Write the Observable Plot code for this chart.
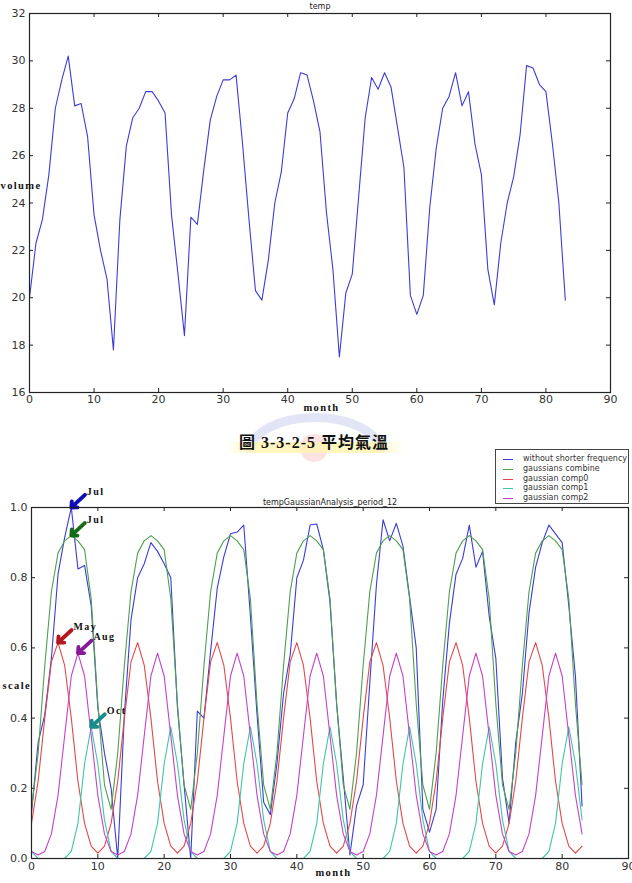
<!DOCTYPE html>
<html><head><meta charset="utf-8">
<script src="https://cdn.jsdelivr.net/npm/d3@7"></script>
<script src="https://cdn.jsdelivr.net/npm/@observablehq/plot@0.6"></script>
<style>
body{margin:0;background:#fff;}
#wrap{position:relative;width:632px;height:883px;overflow:hidden;background:#fff;font-family:"DejaVu Sans",sans-serif;}
#wrap svg{position:absolute;left:0;overflow:visible;}
.caption{position:absolute;left:-2px;top:429px;width:632px;text-align:center;font-family:"Liberation Serif","Noto Sans CJK TC",serif;font-weight:bold;font-size:16px;letter-spacing:1px;color:#111;}
.legend{position:absolute;left:495px;top:449px;width:134px;height:55px;border:1px solid #444;background:#fff;box-sizing:border-box;}
.legend .row{position:absolute;left:0;height:10px;width:134px;font-size:8px;line-height:10px;color:#333;white-space:nowrap;}
.legend .sw{position:absolute;left:7px;top:5px;width:10px;height:0;border-top:1px solid;}
.legend .tx{position:absolute;left:27px;top:0;}
g[font-family="Liberation Serif"] text{letter-spacing:1.4px;}
</style></head><body><div id="wrap"></div>
<script>
// ---------- data ----------
const months = d3.range(84);
const xTicks = [0, 10, 20, 30, 40, 50, 60, 70, 80, 90];
const tempTicks = [16, 18, 20, 22, 24, 26, 28, 30, 32];
const scaleTicks = [0, 0.2, 0.4, 0.6, 0.8, 1.0];

// top panel: monthly mean temperature
const temp = [20.0, 22.3, 23.3, 25.2, 28.0, 29.2, 30.2, 28.1, 28.2, 26.8,
  23.5, 22.0, 20.8, 17.8, 23.3, 26.4, 27.6, 28.0, 28.7, 28.7,
  28.3, 27.8, 23.5, 21.0, 18.4, 23.4, 23.1, 25.4, 27.5, 28.5,
  29.2, 29.2, 29.4, 26.5, 23.3, 20.3, 19.9, 21.6, 24.0, 25.3,
  27.8, 28.4, 29.5, 29.4, 28.3, 27.0, 23.6, 21.2, 17.5, 20.2,
  21.0, 24.3, 27.6, 29.3, 28.8, 29.5, 28.9, 27.2, 25.5, 20.1,
  19.3, 20.1, 23.8, 26.3, 28.0, 28.5, 29.5, 28.1, 28.7, 26.5,
  25.2, 21.2, 19.7, 22.3, 24.0, 25.1, 26.9, 29.8, 29.7, 29.0,
  28.7, 26.5, 24.0, 19.9];

// bottom panel series
const withoutShorter = [0.13, 0.33, 0.41, 0.57, 0.81, 0.915, 1.0, 0.825, 0.835, 0.72,
  0.43, 0.30, 0.20, 0.0, 0.41, 0.68, 0.80, 0.84, 0.90, 0.875,
  0.84, 0.80, 0.43, 0.21, 0.0, 0.42, 0.40, 0.59, 0.77, 0.86,
  0.925, 0.93, 0.95, 0.69, 0.41, 0.16, 0.125, 0.27, 0.47, 0.58,
  0.80, 0.85, 0.95, 0.953, 0.88, 0.73, 0.44, 0.23, 0.01, 0.15,
  0.21, 0.50, 0.78, 0.965, 0.905, 0.955, 0.89, 0.745, 0.60, 0.14,
  0.075, 0.14, 0.45, 0.67, 0.81, 0.855, 0.95, 0.83, 0.875, 0.69,
  0.57, 0.23, 0.10, 0.33, 0.47, 0.70, 0.83, 0.90, 0.95, 0.925,
  0.90, 0.72, 0.52, 0.15];
const gaussCombine = [
  0.14, 0.30, 0.55, 0.76, 0.87, 0.905, 0.92, 0.905, 0.88, 0.74, 0.44, 0.21,
  0.14, 0.30, 0.55, 0.76, 0.87, 0.905, 0.92, 0.905, 0.88, 0.74, 0.44, 0.21,
  0.14, 0.30, 0.55, 0.76, 0.87, 0.905, 0.92, 0.905, 0.88, 0.74, 0.44, 0.21,
  0.14, 0.30, 0.55, 0.76, 0.87, 0.905, 0.92, 0.905, 0.88, 0.74, 0.44, 0.21,
  0.14, 0.30, 0.55, 0.76, 0.87, 0.905, 0.92, 0.905, 0.88, 0.74, 0.44, 0.21,
  0.14, 0.30, 0.55, 0.76, 0.87, 0.905, 0.92, 0.905, 0.88, 0.74, 0.44, 0.21,
  0.14, 0.30, 0.55, 0.76, 0.87, 0.905, 0.92, 0.905, 0.88, 0.74, 0.44, 0.21];
const comp0 = [
  0.10, 0.22, 0.40, 0.56, 0.615, 0.55, 0.40, 0.22, 0.10, 0.035, 0.015, 0.035,
  0.10, 0.22, 0.40, 0.56, 0.615, 0.55, 0.40, 0.22, 0.10, 0.035, 0.015, 0.035,
  0.10, 0.22, 0.40, 0.56, 0.615, 0.55, 0.40, 0.22, 0.10, 0.035, 0.015, 0.035,
  0.10, 0.22, 0.40, 0.56, 0.615, 0.55, 0.40, 0.22, 0.10, 0.035, 0.015, 0.035,
  0.10, 0.22, 0.40, 0.56, 0.615, 0.55, 0.40, 0.22, 0.10, 0.035, 0.015, 0.035,
  0.10, 0.22, 0.40, 0.56, 0.615, 0.55, 0.40, 0.22, 0.10, 0.035, 0.015, 0.035,
  0.10, 0.22, 0.40, 0.56, 0.615, 0.55, 0.40, 0.22, 0.10, 0.035, 0.015, 0.035];
const comp1 = [
  0.02, 0.0, 0.0, 0.0, 0.0, 0.0, 0.02, 0.10, 0.27, 0.375, 0.27, 0.11,
  0.02, 0.0, 0.0, 0.0, 0.0, 0.0, 0.02, 0.10, 0.27, 0.375, 0.27, 0.11,
  0.02, 0.0, 0.0, 0.0, 0.0, 0.0, 0.02, 0.10, 0.27, 0.375, 0.27, 0.11,
  0.02, 0.0, 0.0, 0.0, 0.0, 0.0, 0.02, 0.10, 0.27, 0.375, 0.27, 0.11,
  0.02, 0.0, 0.0, 0.0, 0.0, 0.0, 0.02, 0.10, 0.27, 0.375, 0.27, 0.11,
  0.02, 0.0, 0.0, 0.0, 0.0, 0.0, 0.02, 0.10, 0.27, 0.375, 0.27, 0.11,
  0.02, 0.0, 0.0, 0.0, 0.0, 0.0, 0.02, 0.10, 0.27, 0.375, 0.27, 0.11];
const comp2 = [
  0.02, 0.01, 0.02, 0.07, 0.18, 0.35, 0.52, 0.585, 0.52, 0.35, 0.18, 0.07,
  0.02, 0.01, 0.02, 0.07, 0.18, 0.35, 0.52, 0.585, 0.52, 0.35, 0.18, 0.07,
  0.02, 0.01, 0.02, 0.07, 0.18, 0.35, 0.52, 0.585, 0.52, 0.35, 0.18, 0.07,
  0.02, 0.01, 0.02, 0.07, 0.18, 0.35, 0.52, 0.585, 0.52, 0.35, 0.18, 0.07,
  0.02, 0.01, 0.02, 0.07, 0.18, 0.35, 0.52, 0.585, 0.52, 0.35, 0.18, 0.07,
  0.02, 0.01, 0.02, 0.07, 0.18, 0.35, 0.52, 0.585, 0.52, 0.35, 0.18, 0.07,
  0.02, 0.01, 0.02, 0.07, 0.18, 0.35, 0.52, 0.585, 0.52, 0.35, 0.18, 0.07];

const seriesNames = ["without shorter frequency", "gaussians combine", "gaussian comp0", "gaussian comp1", "gaussian comp2"];
const seriesValues = [withoutShorter, gaussCombine, comp0, comp1, comp2];
const seriesColors = ["#3c3cd8", "#4f9f4f", "#e2484c", "#40c6a6", "#c444ca"];

// annotations
const annLabels = ["Jul", "Jul", "May", "Aug", "Oct"];
const annMonths = [6, 6, 4, 7, 9];
const annSeries = [0, 1, 2, 4, 3];
const annColors = ["#0c0cb8", "#166c16", "#b5171d", "#861a98", "#178c8c"];

// ---------- layout ----------
const W = 632;
const wrap = document.getElementById("wrap");
const axisStyle = {background: "transparent", fontFamily: "'DejaVu Sans', sans-serif", fontSize: "11px", color: "#333"};
const serifBold = {fontFamily: "Liberation Serif", fontWeight: "bold", fill: "#111"};

function inwardTicks(xt, yt, iW, iH, len) {
  return [
    Plot.ruleX(xt, {x: d => d, insetTop: iH - len, stroke: "#222"}),
    Plot.ruleX(xt, {x: d => d, insetBottom: iH - len, stroke: "#222"}),
    Plot.ruleY(yt, {y: d => d, insetRight: iW - len, stroke: "#222"}),
    Plot.ruleY(yt, {y: d => d, insetLeft: iW - len, stroke: "#222"})
  ];
}

// ---------- top chart ----------
const T = {h: 420, mt: 13, mb: 28, ml: 29, mr: 22};
const tIW = W - T.ml - T.mr, tIH = T.h - T.mt - T.mb;
const tempRows = temp.map((v, i) => ({month: months[i], temp: v}));
const topChart = Plot.plot({
  width: W, height: T.h,
  marginTop: T.mt, marginBottom: T.mb, marginLeft: T.ml, marginRight: T.mr,
  style: axisStyle,
  x: {domain: [0, 90]},
  y: {domain: [16, 32]},
  marks: [
    Plot.axisX(xTicks, {tickSize: 0, tickPadding: 3, label: null}),
    Plot.axisY(tempTicks, {tickSize: 0, tickPadding: 4, label: null}),
    ...inwardTicks(xTicks, tempTicks, tIW, tIH, 4),
    Plot.lineY(tempRows, {x: "month", y: "temp", stroke: "#3d3dd6", strokeWidth: 1.1}),
    Plot.frame({stroke: "#222", strokeWidth: 1.2}),
    Plot.text(["temp"], {text: d => d, frameAnchor: "top", lineAnchor: "middle", dy: -7, fontSize: 8, fill: "#222"}),
    Plot.text(["volume"], {text: d => d, frameAnchor: "left", textAnchor: "start", lineAnchor: "middle", dx: -29, dy: -17.5, fontSize: 10.5, ...serifBold}),
    Plot.text(["month"], {text: d => d, frameAnchor: "bottom", lineAnchor: "middle", dx: 1.5, dy: 15, fontSize: 10.5, ...serifBold})
  ]
});
topChart.style.top = "0px";
wrap.appendChild(topChart);

// ---------- caption with faint watermark ----------
const wm = document.createElementNS("http://www.w3.org/2000/svg", "svg");
wm.setAttribute("width", 632); wm.setAttribute("height", 40);
wm.style.top = "418px";
wm.innerHTML = `
  <defs><linearGradient id="band" x1="0" x2="1"><stop offset="0" stop-color="#fff6c0" stop-opacity="0"/><stop offset="0.15" stop-color="#fff3b0" stop-opacity="0.8"/><stop offset="0.85" stop-color="#fff3b0" stop-opacity="0.8"/><stop offset="1" stop-color="#fff6c0" stop-opacity="0"/></linearGradient></defs>
  <path d="M250,34 A64,34 0 0 1 380,34" fill="none" stroke="#c9d0ee" stroke-width="9" opacity="0.55"/>
  <circle cx="314" cy="30" r="14" fill="#f6c2c2" opacity="0.45"/>
  <rect x="225" y="24" width="180" height="11" fill="url(#band)"/>`;
wrap.appendChild(wm);
const cap = document.createElement("div");
cap.className = "caption";
cap.textContent = "圖 3-3-2-5 平均氣溫";
wrap.appendChild(cap);

// ---------- bottom chart ----------
const B = {top: 480, h: 403, mt: 27, mb: 25, ml: 31, mr: 4};
const bIW = W - B.ml - B.mr, bIH = B.h - B.mt - B.mb;
const ann = annLabels.map((label, i) => ({
  label, month: annMonths[i], value: seriesValues[annSeries[i]][annMonths[i]], color: annColors[i]
}));
const ARROW_DX = 2.05, ARROW_DY = 0.036; // arrow tail offset from target
const bottomChart = Plot.plot({
  width: W, height: B.h,
  marginTop: B.mt, marginBottom: B.mb, marginLeft: B.ml, marginRight: B.mr,
  style: axisStyle,
  x: {domain: [0, 90]},
  y: {domain: [0, 1]},
  marks: [
    Plot.axisX(xTicks, {tickSize: 0, tickPadding: 4, label: null}),
    Plot.axisY(scaleTicks, {tickSize: 0, tickPadding: 4, label: null, tickFormat: d3.format(".1f")}),
    ...inwardTicks(xTicks, scaleTicks, bIW, bIH, 4),
    ...seriesValues.map((vals, s) => Plot.lineY(vals.map((v, i) => ({month: months[i], value: v})),
      {x: "month", y: "value", stroke: seriesColors[s], strokeWidth: 1.1})),
    ...ann.map(a => Plot.arrow([a], {
      x1: d => d.month + ARROW_DX, y1: d => d.value + ARROW_DY, x2: "month", y2: "value",
      stroke: a.color, strokeWidth: 3.8, headLength: 7, headAngle: 85
    })),
    Plot.text(ann, {x: "month", y: "value", text: "label", dx: 15.5, dy: -16, textAnchor: "start", lineAnchor: "middle", fontSize: 10, ...serifBold}),
    Plot.frame({stroke: "#222", strokeWidth: 1.2}),
    Plot.text(["tempGaussianAnalysis_period_12"], {text: d => d, frameAnchor: "top", lineAnchor: "middle", dy: -5, fontSize: 8, fill: "#222"}),
    Plot.text(["scale"], {text: d => d, frameAnchor: "left", textAnchor: "start", lineAnchor: "middle", dx: -29, dy: 2.5, fontSize: 10.5, ...serifBold}),
    Plot.text(["month"], {text: d => d, frameAnchor: "bottom", lineAnchor: "middle", dx: 3.5, dy: 14, fontSize: 10.5, ...serifBold})
  ]
});
bottomChart.style.top = B.top + "px";
wrap.appendChild(bottomChart);

// ---------- legend ----------
const leg = document.createElement("div");
leg.className = "legend";
seriesNames.forEach((name, i) => {
  const row = document.createElement("div");
  row.className = "row";
  row.style.top = (4 + i * 9.8) + "px";
  row.innerHTML = `<span class="sw" style="border-color:${seriesColors[i]}"></span><span class="tx">${name}</span>`;
  leg.appendChild(row);
});
wrap.appendChild(leg);
</script></body></html>
